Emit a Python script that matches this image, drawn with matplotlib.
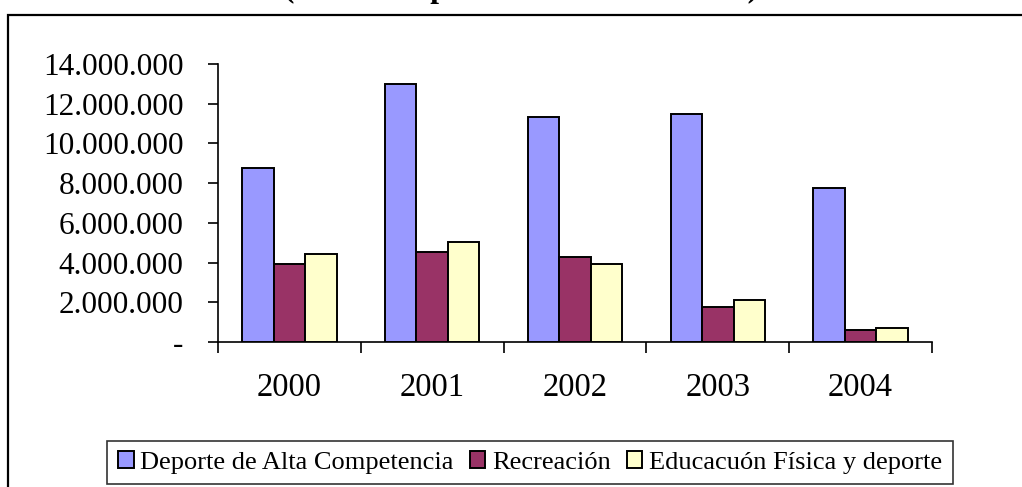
import matplotlib.pyplot as plt
import numpy as np
from matplotlib.patches import Rectangle

# --- datos ---
anios = ["2000", "2001", "2002", "2003", "2004"]
series = [
    "Deporte de Alta Competencia",
    "Recreación",
    "Educacuón Física y deporte",
]
alta_competencia = [8750000, 13000000, 11350000, 11480000, 7750000]
recreacion = [3930000, 4520000, 4300000, 1780000, 600000]
educacion_fisica = [4430000, 5020000, 3930000, 2110000, 700000]
titulo = "(Monto en pesos corrientes del año)"

colores = ["#9999FF", "#993366", "#FFFFCC"]

plt.rcParams["font.family"] = ["Liberation Serif", "DejaVu Serif"]

W, H = 1022, 487
fig = plt.figure(figsize=(W / 100, H / 100), dpi=100)
fig.patch.set_facecolor("white")

# marco exterior del grafico (se sale por la derecha y por abajo)
fig.patches.append(
    Rectangle(
        (8 / W, -0.1),
        1.2,
        1.1 - 15 / H,
        transform=fig.transFigure,
        fill=False,
        edgecolor="black",
        linewidth=1.6,
        zorder=0,
    )
)

# titulo cortado en el borde superior (solo asoman los descendentes)
fig.text(
    521 / W,
    1 + 3 / H,
    titulo,
    ha="center",
    va="baseline",
    fontsize=22.5,
    fontweight="bold",
)

ax = fig.add_axes([218 / W, 1 - 342 / H, (932 - 218) / W, (342 - 64) / H])

x = np.arange(len(anios))
ancho = 0.22
valores = [alta_competencia, recreacion, educacion_fisica]
for i, (nombre, vals) in enumerate(zip(series, valores)):
    ax.bar(
        x + (i - 1) * ancho,
        vals,
        ancho,
        color=colores[i],
        edgecolor="black",
        linewidth=1.4,
        label=nombre,
        zorder=3,
    )

ax.set_xlim(-0.5, len(anios) - 0.5)
ax.set_ylim(0, 14000000)
ax.set_yticks(np.arange(0, 14000001, 2000000))


def fmt(v, pos=None):
    if v == 0:
        return "-"
    return f"{v:,.0f}".replace(",", ".")


ax.yaxis.set_major_formatter(plt.FuncFormatter(fmt))

# ticks de categoria en los limites, etiquetas en el centro
ax.set_xticks(np.arange(-0.5, len(anios), 1.0))
ax.set_xticklabels([])
ax.set_xticks(x, minor=True)
ax.set_xticklabels(anios, minor=True)
ax.tick_params(axis="x", which="major", direction="out", length=8, width=1.2)
ax.tick_params(axis="x", which="minor", length=0, pad=22, labelsize=23.5)
ax.tick_params(axis="y", direction="out", length=7, width=1.2, pad=18, labelsize=22.5)

ax.spines["top"].set_visible(False)
ax.spines["right"].set_visible(False)
ax.spines["left"].set_linewidth(1.2)
ax.spines["bottom"].set_linewidth(1.2)

leg = fig.legend(
    loc="center",
    bbox_to_anchor=(530 / W, 1 - 462.5 / H),
    ncol=3,
    fontsize=19,
    frameon=True,
    fancybox=False,
    edgecolor="black",
    handlelength=0.6,
    handleheight=0.6,
    handletextpad=0.25,
    columnspacing=0.6,
    borderpad=0.4,
    borderaxespad=0,
)
leg.get_frame().set_linewidth(1.2)

fig.savefig("out.png", dpi=100)
